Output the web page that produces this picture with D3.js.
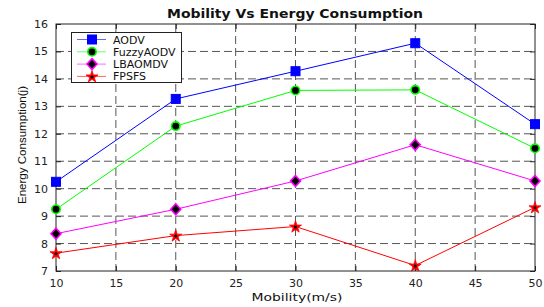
<!DOCTYPE html>
<html><head><meta charset="utf-8">
<script src="https://cdn.jsdelivr.net/npm/d3@7"></script>
<style>body{margin:0;background:#fff}svg{display:block}</style>
</head><body>
<svg id="c" width="544" height="307"></svg>
<script>
const mobility = [10, 20, 30, 40, 50];
const aodv = [10.25, 13.27, 14.28, 15.3, 12.35];
const fuzzyAodv = [9.25, 12.28, 13.58, 13.6, 11.47];
const lbaomdv = [8.36, 9.25, 10.28, 11.6, 10.28];
const fpsfs = [7.65, 8.29, 8.62, 7.2, 9.32];
const xTicks = [10, 15, 20, 25, 30, 35, 40, 45, 50];
const yTicks = [7, 8, 9, 10, 11, 12, 13, 14, 15, 16];
const seriesNames = ["AODV", "FuzzyAODV", "LBAOMDV", "FPSFS"];

const series = [
  {name: seriesNames[0], values: aodv, color: "#0000ff", marker: "square", fill: "#0000ff"},
  {name: seriesNames[1], values: fuzzyAodv, color: "#00ff00", marker: "circle", fill: "#000"},
  {name: seriesNames[2], values: lbaomdv, color: "#ff00ff", marker: "diamond", fill: "#000"},
  {name: seriesNames[3], values: fpsfs, color: "#ff0000", marker: "star", fill: "#000"}
];

const svg = d3.select("#c");
const L = 56, R = 535, T = 24, B = 271;
const x = d3.scaleLinear().domain([10, 50]).range([L, R]);
const y = d3.scaleLinear().domain([7, 16]).range([B, T]);
const font = "DejaVu Sans, sans-serif";

// grid
const g = svg.append("g");
g.selectAll("line.vx").data(xTicks.slice(1, -1)).join("line")
  .attr("x1", d => x(d)).attr("x2", d => x(d)).attr("y1", T).attr("y2", B)
  .attr("stroke", "#555").attr("stroke-width", 1).attr("stroke-dasharray", "8,4");
g.selectAll("line.hy").data(yTicks.slice(1, -1)).join("line")
  .attr("y1", d => y(d)).attr("y2", d => y(d)).attr("x1", L).attr("x2", R)
  .attr("stroke", "#555").attr("stroke-width", 1).attr("stroke-dasharray", "8,4");

// box
svg.append("rect").attr("x", L).attr("y", T).attr("width", R - L).attr("height", B - T)
  .attr("fill", "none").attr("stroke", "#222").attr("stroke-width", 1);

// axes
const axB = svg.append("g").attr("transform", `translate(0,${B})`)
  .call(d3.axisBottom(x).tickValues(xTicks).tickSize(-5).tickPadding(8).tickFormat(d3.format("d")));
const axT = svg.append("g").attr("transform", `translate(0,${T})`)
  .call(d3.axisTop(x).tickValues(xTicks).tickSize(-5).tickFormat(""));
const axL = svg.append("g").attr("transform", `translate(${L},0)`)
  .call(d3.axisLeft(y).tickValues(yTicks).tickSize(-5).tickPadding(8).tickFormat(d3.format("d")));
const axR = svg.append("g").attr("transform", `translate(${R},0)`)
  .call(d3.axisRight(y).tickValues(yTicks).tickSize(-5).tickFormat(""));
[axB, axT, axL, axR].forEach(a => {
  a.select(".domain").remove();
  a.selectAll(".tick line").attr("stroke", "#222");
  a.selectAll("text").attr("font-family", font).attr("font-size", 11).attr("fill", "#222");
});

// markers
const star = d3.symbol().type(d3.symbolStar).size(45);
function drawMarker(sel, s, cx, cy) {
  if (s.marker === "square") {
    sel.append("rect").attr("x", cx - 4.5).attr("y", cy - 4.5).attr("width", 9).attr("height", 9)
      .attr("fill", s.fill).attr("stroke", s.color);
  } else if (s.marker === "circle") {
    sel.append("circle").attr("cx", cx).attr("cy", cy).attr("r", 4.2)
      .attr("fill", s.fill).attr("stroke", s.color).attr("stroke-width", 1.6);
  } else if (s.marker === "diamond") {
    sel.append("path").attr("d", `M${cx},${cy-5.5}L${cx+5},${cy}L${cx},${cy+5.5}L${cx-5},${cy}Z`)
      .attr("fill", s.fill).attr("stroke", s.color).attr("stroke-width", 1.6);
  } else {
    sel.append("path").attr("d", star).attr("transform", `translate(${cx},${cy+0.5})`)
      .attr("fill", s.color).attr("stroke", s.color).attr("stroke-width", 0.8);
    sel.append("circle").attr("cx", cx).attr("cy", cy + 0.5).attr("r", 1.5).attr("fill", s.fill);
  }
}

const line = d3.line().x((d, i) => x(mobility[i])).y(d => y(d));
series.forEach(s => {
  svg.append("path").attr("d", line(s.values)).attr("fill", "none")
    .attr("stroke", s.color).attr("stroke-width", 1);
  const mg = svg.append("g");
  s.values.forEach((v, i) => drawMarker(mg, s, x(mobility[i]), y(v)));
});

// legend
const lg = svg.append("g");
lg.append("rect").attr("x", 71.5).attr("y", 32.5).attr("width", 110).attr("height", 50)
  .attr("fill", "#fff").attr("stroke", "#222").attr("stroke-width", 1);
series.forEach((s, i) => {
  const ly = 39.5 + i * 12.3;
  lg.append("line").attr("x1", 77).attr("x2", 106).attr("y1", ly).attr("y2", ly)
    .attr("stroke", s.color).attr("stroke-width", 1).attr("opacity", 0.6);
  drawMarker(lg, s, 92, ly);
  lg.append("text").attr("x", 113).attr("y", ly + 4).text(s.name)
    .attr("font-family", font).attr("font-size", 11).attr("fill", "#111");
});

// title & labels
svg.append("text").attr("x", 295).attr("y", 18).attr("text-anchor", "middle")
  .attr("font-family", font).attr("font-weight", "bold").attr("font-size", 12)
  .attr("textLength", 256).attr("lengthAdjust", "spacingAndGlyphs")
  .attr("fill", "#111").text("Mobility Vs Energy Consumption");
svg.append("text").attr("x", 297).attr("y", 301).attr("text-anchor", "middle")
  .attr("font-family", font).attr("font-size", 11).attr("fill", "#111")
  .attr("textLength", 91).attr("lengthAdjust", "spacingAndGlyphs").text("Mobility(m/s)");
svg.append("text").attr("transform", "translate(26,145) rotate(-90)").attr("text-anchor", "middle")
  .attr("font-family", "Liberation Sans, Arial, sans-serif").attr("font-size", 11)
  .attr("textLength", 118).attr("lengthAdjust", "spacingAndGlyphs")
  .attr("fill", "#111").text("Energy Consumption(j)");
</script>
</body></html>
